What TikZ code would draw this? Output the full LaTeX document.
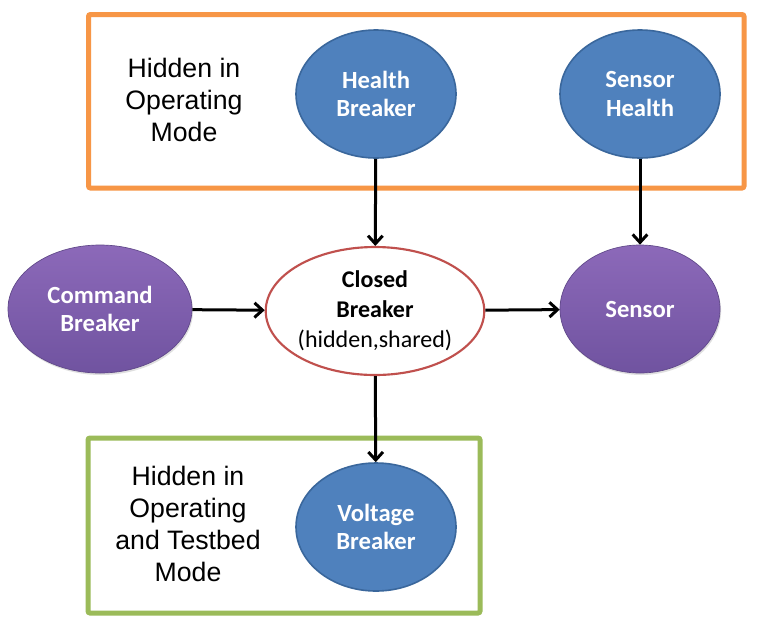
\documentclass[tikz,border=0pt]{standalone}
\usepackage{fontspec}
\setmainfont{Liberation Sans}
\newfontfamily\calibri{Carlito}
\definecolor{BoxOrange}{HTML}{F79646}
\definecolor{BoxGreen}{HTML}{9BBB59}
\definecolor{NodeBlue}{HTML}{4F81BD}
\definecolor{NodeBlueDark}{HTML}{3A679C}
\definecolor{NodePurpleTop}{HTML}{8C69B9}
\definecolor{NodePurpleBot}{HTML}{7053A0}
\definecolor{NodeRed}{HTML}{C0504D}
\usetikzlibrary{arrows.meta,shapes.geometric,shadows}

\begin{document}
\begin{tikzpicture}[x=0.75pt,y=-0.75pt,>={Straight Barb[length=6pt,width=11pt]},
  hidden/.style={draw,ellipse,fill=NodeBlue,draw=NodeBlueDark,line width=1.2pt,text=white,
    font=\calibri\bfseries\fontsize{18.5}{21.5}\selectfont,align=center,inner sep=0pt,
    minimum width=120pt,minimum height=96pt},
  observed/.style={ellipse,top color=NodePurpleTop,bottom color=NodePurpleBot,draw=NodePurpleBot!85!black,
    line width=0.5pt,text=white,font=\calibri\bfseries\fontsize{18.5}{21.5}\selectfont,align=center,
    inner sep=0pt,minimum width=120pt,minimum height=96pt,
    drop shadow={opacity=0.25,shadow xshift=0.8pt,shadow yshift=-1.5pt}},
  shared/.style={draw=NodeRed,ellipse,fill=white,line width=1.6pt,
    font=\calibri\fontsize{18}{22.5}\selectfont,align=center,inner sep=0pt,
    minimum width=162pt,minimum height=96pt},
  modebox/.style={line width=3.75pt,rounded corners=1.5pt},
  modetext/.style={align=center,font=\fontsize{20}{24}\selectfont},
  link/.style={->,line width=2.25pt}]
  \useasboundingbox[fill=white] (0,0) rectangle (762,632);
  % mode boxes
  \draw[modebox,BoxOrange] (88.5,14.5) rectangle (744,188);
  \draw[modebox,BoxGreen] (88,438) rectangle (480,613);
  \node[modetext] (opmode) at (184,100) {Hidden in\\Operating\\Mode};
  \node[modetext] (tbmode) at (188,524) {Hidden in\\Operating\\and Testbed\\Mode};
  % variables
  \node[hidden] (hb) at (376,94) {Health\\Breaker};
  \node[hidden] (sh) at (640,94) {Sensor\\Health};
  \node[observed,minimum width=138pt] (cb) at (100,309) {Command\\Breaker};
  \node[shared] (clb) at (375,311) {\textbf{Closed}\\\textbf{Breaker}\\(hidden,shared)};
  \node[observed] (sn) at (640,309) {Sensor};
  \node[hidden] (vb) at (376,527) {Voltage\\Breaker};
  % dependencies
  \draw[link] (hb) -- (clb);
  \draw[link] (sh) -- (sn);
  \draw[link] (cb) -- (clb);
  \draw[link] (clb) -- (sn);
  \draw[link] (clb) -- (vb);
\end{tikzpicture}
\end{document}
